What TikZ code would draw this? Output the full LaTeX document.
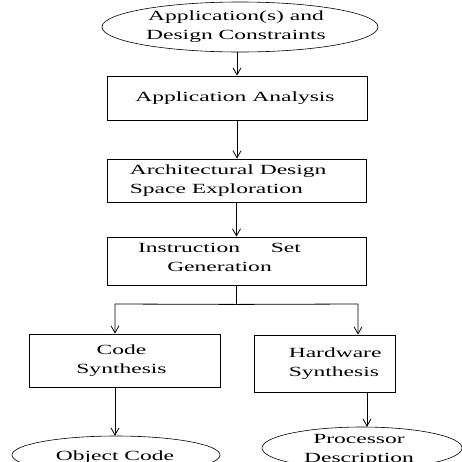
\documentclass[tikz,border=0pt]{standalone}
\usepackage{fontspec}
\setmainfont[FakeStretch=1.68]{Liberation Serif}
\usetikzlibrary{%
	calc,%
	arrows.meta,%
	shapes.geometric
}

\begin{document}
\begin{tikzpicture}
		[x=1pt,y=1pt,
		txt/.style={font=\fontsize{14}{19}\selectfont,inner sep=0pt},
		blk/.style={draw,line width=0.8pt,inner sep=0pt},
		oval/.style={draw,ellipse,line width=0.6pt,inner sep=0pt},
		flow/.style={line width=0.8pt,-{Straight Barb[length=7pt,width=8pt]}}
		]
		\useasboundingbox (0,0) rectangle (462,-461);
		
		% shapes
		\node[oval,minimum width=276,minimum height=50] (req) at (240,-27) {};
		\node[blk,minimum width=260,minimum height=44] (ana) at (237,-98) {};
		\node[blk,minimum width=259,minimum height=43] (dse) at (236.5,-180.5) {};
		\node[blk,minimum width=259,minimum height=48] (isg) at (236.5,-261) {};
		\node[blk,minimum width=191,minimum height=53] (cod) at (124.5,-360.5) {};
		\node[blk,minimum width=141,minimum height=57] (hw) at (324.5,-363.5) {};
		\node[oval,minimum width=208,minimum height=38] (obj) at (116,-455) {};
		\node[oval,minimum width=200,minimum height=42] (proc) at (362,-448) {};
		
		% texts
		\node[txt,align=center] at ($(req)+(-4,0)$) {Application(s) and\\Design Constraints};
		\node[txt] at ($(ana)+(-2,0)$) {Application Analysis};
		\node[txt,align=left,anchor=west] at ($(dse.west)+(23,0)$) {Architectural Design\\Space Exploration};
		\node[txt,align=center] at ($(isg)+(-17,4)$) {Instruction\hspace{2.2em}Set\\Generation};
		\node[txt,align=center] at ($(cod)+(-3,0)$) {Code\\Synthesis};
		\node[txt,align=left,anchor=west] at ($(hw.west)+(35,0)$) {Hardware\\Synthesis};
		\node[txt] at ($(obj)+(-1,-2)$) {Object Code};
		\node[txt,align=center] at ($(proc)+(-3,-2)$) {Processor\\Description};
		
		% connectors
		\coordinate (fork) at ($(isg.south)+(0,-19)$);
		\coordinate (forkl) at (115,-304);
		\coordinate (forkr) at (358,-304);
		\draw[flow] (req.south -| ana) -- (ana.north);
		\draw[flow] (ana) -- (dse.north -| ana);
		\draw[flow] (dse) -- (isg.north -| dse);
		\draw[line width=0.8pt] (isg.south) -- (fork);
		\draw[flow] (fork) -- (forkl) -- (forkl |- cod.north);
		\draw[flow] (fork) -- (forkr) -- (forkr |- hw.north);
		\draw[flow] (forkl |- cod.south) -- (forkl |- obj.north);
		\draw[flow] (hw.south -| 367,0) -- (proc.north -| 367,0);
	\end{tikzpicture}
\end{document}
